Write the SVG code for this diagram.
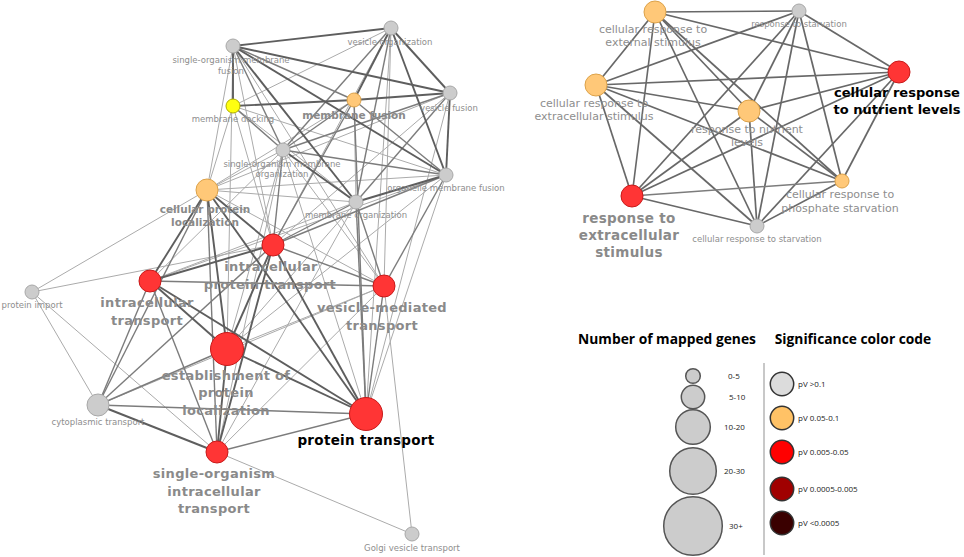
<svg xmlns="http://www.w3.org/2000/svg" width="964" height="557" viewBox="0 0 964 557">
<style>
.e1{stroke:#5e5e5e;stroke-width:1.9;fill:none}
.e2{stroke:#7c7c7c;stroke-width:1.4;fill:none}
.e3{stroke:#ababab;stroke-width:1;fill:none}
.er{stroke:#686868;stroke-width:1.7;fill:none}
.gray{fill:#cccccc;stroke:#a8a8a8;stroke-width:1}
.red{fill:#ff3535;stroke:#c81a1a;stroke-width:1}
.org{fill:#ffc878;stroke:#dca24a;stroke-width:1}
.yel{fill:#ffff10;stroke:#b0b000;stroke-width:1}
text{font-family:"DejaVu Sans",sans-serif;text-anchor:middle}
.s{font-size:8.5px;fill:#8e8e8e}
.m{font-size:11px;fill:#8e8e8e}
.b{font-size:13px;font-weight:bold;fill:#8a8a8a;letter-spacing:0.3px}
.bm{font-size:10.5px;font-weight:bold;fill:#8a8a8a}
.bk{font-size:13px;font-weight:bold;fill:#000}
.lt{font-family:"Open Sans",sans-serif;font-size:13.8px;font-weight:bold;fill:#000}
.ll{font-family:"Open Sans",sans-serif;font-size:8px;fill:#222;text-anchor:start}
.sz{fill:#cccccc;stroke:#555;stroke-width:1.5}
.cc{stroke:#333;stroke-width:1.5}
</style>
<rect width="964" height="557" fill="#fff"/>
<g id="connectors">
<line class="e3" x1="233" y1="46" x2="207" y2="190"/>
<line class="e3" x1="233" y1="46" x2="273" y2="245"/>
<line class="e3" x1="233" y1="46" x2="227" y2="349"/>
<line class="e3" x1="233" y1="46" x2="384" y2="286"/>
<line class="e3" x1="233" y1="106" x2="391" y2="28"/>
<line class="e3" x1="233" y1="106" x2="207" y2="190"/>
<line class="e3" x1="233" y1="106" x2="356" y2="202"/>
<line class="e3" x1="233" y1="106" x2="446" y2="175"/>
<line class="e3" x1="233" y1="106" x2="273" y2="245"/>
<line class="e3" x1="283" y1="150" x2="207" y2="190"/>
<line class="e3" x1="283" y1="150" x2="150" y2="281"/>
<line class="e3" x1="283" y1="150" x2="227" y2="349"/>
<line class="e3" x1="283" y1="150" x2="366" y2="414"/>
<line class="e3" x1="283" y1="150" x2="217" y2="452"/>
<line class="e3" x1="207" y1="190" x2="446" y2="175"/>
<line class="e3" x1="207" y1="190" x2="356" y2="202"/>
<line class="e3" x1="207" y1="190" x2="450" y2="93"/>
<line class="e3" x1="207" y1="190" x2="354" y2="100"/>
<line class="e3" x1="207" y1="190" x2="384" y2="286"/>
<line class="e3" x1="150" y1="281" x2="356" y2="202"/>
<line class="e3" x1="150" y1="281" x2="446" y2="175"/>
<line class="e3" x1="32" y1="292" x2="207" y2="190"/>
<line class="e3" x1="32" y1="292" x2="273" y2="245"/>
<line class="e3" x1="32" y1="292" x2="98" y2="405"/>
<line class="e3" x1="32" y1="292" x2="217" y2="452"/>
<line class="e3" x1="412" y1="534" x2="384" y2="286"/>
<line class="e3" x1="412" y1="534" x2="217" y2="452"/>
<line class="e3" x1="227" y1="349" x2="356" y2="202"/>
<line class="e3" x1="227" y1="349" x2="446" y2="175"/>
<line class="e3" x1="227" y1="349" x2="384" y2="286"/>
<line class="e3" x1="366" y1="414" x2="391" y2="28"/>
<line class="e3" x1="366" y1="414" x2="446" y2="175"/>
<line class="e3" x1="366" y1="414" x2="450" y2="93"/>
<line class="e3" x1="217" y1="452" x2="356" y2="202"/>
<line class="e3" x1="217" y1="452" x2="384" y2="286"/>
<line class="e3" x1="98" y1="405" x2="384" y2="286"/>
<line class="e3" x1="273" y1="245" x2="391" y2="28"/>
<line class="e3" x1="273" y1="245" x2="450" y2="93"/>
<line class="e3" x1="356" y1="202" x2="354" y2="100"/>
<line class="e3" x1="384" y1="286" x2="391" y2="28"/>
<line class="e3" x1="384" y1="286" x2="283" y2="150"/>
<line class="e2" x1="233" y1="46" x2="283" y2="150"/>
<line class="e2" x1="233" y1="46" x2="354" y2="100"/>
<line class="e2" x1="391" y1="28" x2="356" y2="202"/>
<line class="e2" x1="391" y1="28" x2="283" y2="150"/>
<line class="e2" x1="354" y1="100" x2="283" y2="150"/>
<line class="e2" x1="354" y1="100" x2="446" y2="175"/>
<line class="e2" x1="450" y1="93" x2="283" y2="150"/>
<line class="e2" x1="450" y1="93" x2="356" y2="202"/>
<line class="e2" x1="233" y1="106" x2="283" y2="150"/>
<line class="e2" x1="283" y1="150" x2="446" y2="175"/>
<line class="e2" x1="283" y1="150" x2="273" y2="245"/>
<line class="e2" x1="356" y1="202" x2="273" y2="245"/>
<line class="e2" x1="356" y1="202" x2="384" y2="286"/>
<line class="e2" x1="446" y1="175" x2="384" y2="286"/>
<line class="e2" x1="446" y1="175" x2="273" y2="245"/>
<line class="e2" x1="354" y1="100" x2="273" y2="245"/>
<line class="e2" x1="354" y1="100" x2="366" y2="414"/>
<line class="e2" x1="356" y1="202" x2="366" y2="414"/>
<line class="e2" x1="150" y1="281" x2="98" y2="405"/>
<line class="e2" x1="150" y1="281" x2="217" y2="452"/>
<line class="e2" x1="98" y1="405" x2="227" y2="349"/>
<line class="e2" x1="98" y1="405" x2="366" y2="414"/>
<line class="e2" x1="98" y1="405" x2="273" y2="245"/>
<line class="e2" x1="98" y1="405" x2="207" y2="190"/>
<line class="e2" x1="217" y1="452" x2="366" y2="414"/>
<line class="e2" x1="217" y1="452" x2="207" y2="190"/>
<line class="e2" x1="384" y1="286" x2="273" y2="245"/>
<line class="e2" x1="384" y1="286" x2="366" y2="414"/>
<line class="e2" x1="150" y1="281" x2="384" y2="286"/>
<line class="e1" x1="233" y1="46" x2="391" y2="28"/>
<line class="e1" x1="233" y1="46" x2="450" y2="93"/>
<line class="e1" x1="233" y1="46" x2="446" y2="175"/>
<line class="e1" x1="233" y1="46" x2="356" y2="202"/>
<line class="e1" x1="233" y1="46" x2="233" y2="106"/>
<line class="e1" x1="391" y1="28" x2="450" y2="93"/>
<line class="e1" x1="391" y1="28" x2="446" y2="175"/>
<line class="e1" x1="391" y1="28" x2="354" y2="100"/>
<line class="e1" x1="354" y1="100" x2="450" y2="93"/>
<line class="e1" x1="233" y1="106" x2="354" y2="100"/>
<line class="e1" x1="450" y1="93" x2="446" y2="175"/>
<line class="e1" x1="283" y1="150" x2="356" y2="202"/>
<line class="e1" x1="356" y1="202" x2="446" y2="175"/>
<line class="e1" x1="207" y1="190" x2="273" y2="245"/>
<line class="e1" x1="207" y1="190" x2="150" y2="281"/>
<line class="e1" x1="207" y1="190" x2="227" y2="349"/>
<line class="e1" x1="207" y1="190" x2="366" y2="414"/>
<line class="e1" x1="150" y1="281" x2="273" y2="245"/>
<line class="e1" x1="150" y1="281" x2="227" y2="349"/>
<line class="e1" x1="150" y1="281" x2="366" y2="414"/>
<line class="e1" x1="273" y1="245" x2="227" y2="349"/>
<line class="e1" x1="273" y1="245" x2="217" y2="452"/>
<line class="e1" x1="273" y1="245" x2="366" y2="414"/>
<line class="e1" x1="227" y1="349" x2="366" y2="414"/>
<line class="e1" x1="227" y1="349" x2="217" y2="452"/>
<line class="e1" x1="98" y1="405" x2="217" y2="452"/>
<line class="er" x1="655" y1="12" x2="799" y2="11"/>
<line class="er" x1="655" y1="12" x2="899" y2="72"/>
<line class="er" x1="655" y1="12" x2="596" y2="85"/>
<line class="er" x1="655" y1="12" x2="749" y2="111"/>
<line class="er" x1="655" y1="12" x2="842" y2="181"/>
<line class="er" x1="655" y1="12" x2="632" y2="196"/>
<line class="er" x1="655" y1="12" x2="757" y2="226"/>
<line class="er" x1="799" y1="11" x2="899" y2="72"/>
<line class="er" x1="799" y1="11" x2="596" y2="85"/>
<line class="er" x1="799" y1="11" x2="749" y2="111"/>
<line class="er" x1="799" y1="11" x2="842" y2="181"/>
<line class="er" x1="799" y1="11" x2="632" y2="196"/>
<line class="er" x1="799" y1="11" x2="757" y2="226"/>
<line class="er" x1="899" y1="72" x2="596" y2="85"/>
<line class="er" x1="899" y1="72" x2="749" y2="111"/>
<line class="er" x1="899" y1="72" x2="842" y2="181"/>
<line class="er" x1="899" y1="72" x2="632" y2="196"/>
<line class="er" x1="899" y1="72" x2="757" y2="226"/>
<line class="er" x1="596" y1="85" x2="749" y2="111"/>
<line class="er" x1="596" y1="85" x2="842" y2="181"/>
<line class="er" x1="596" y1="85" x2="632" y2="196"/>
<line class="er" x1="596" y1="85" x2="757" y2="226"/>
<line class="er" x1="749" y1="111" x2="842" y2="181"/>
<line class="er" x1="749" y1="111" x2="632" y2="196"/>
<line class="er" x1="749" y1="111" x2="757" y2="226"/>
<line class="e2" x1="842" y1="181" x2="632" y2="196"/>
<line class="er" x1="842" y1="181" x2="757" y2="226"/>
<line class="er" x1="632" y1="196" x2="757" y2="226"/>
</g>
<g id="n-single-organism-membrane-fusion"><circle class="gray" cx="233" cy="46" r="7"/></g>
<g id="n-vesicle-organization"><circle class="gray" cx="391" cy="28" r="7"/></g>
<g id="n-membrane-fusion"><circle class="org" cx="354" cy="100" r="7"/></g>
<g id="n-vesicle-fusion"><circle class="gray" cx="450" cy="93" r="7"/></g>
<g id="n-membrane-docking"><circle class="yel" cx="233" cy="106" r="7"/></g>
<g id="n-single-organism-membrane-organization"><circle class="gray" cx="283" cy="150" r="7"/></g>
<g id="n-organelle-membrane-fusion"><circle class="gray" cx="446" cy="175" r="7"/></g>
<g id="n-membrane-organization"><circle class="gray" cx="356" cy="202" r="7"/></g>
<g id="n-cellular-protein-localization"><circle class="org" cx="207" cy="190" r="11"/></g>
<g id="n-intracellular-protein-transport"><circle class="red" cx="273" cy="245" r="11"/></g>
<g id="n-intracellular-transport"><circle class="red" cx="150" cy="281" r="11"/></g>
<g id="n-vesicle-mediated-transport"><circle class="red" cx="384" cy="286" r="11"/></g>
<g id="n-protein-import"><circle class="gray" cx="32" cy="292" r="7"/></g>
<g id="n-establishment-of-protein-localization"><circle class="red" cx="227" cy="349" r="16.5"/></g>
<g id="n-cytoplasmic-transport"><circle class="gray" cx="98" cy="405" r="11"/></g>
<g id="n-protein-transport"><circle class="red" cx="366" cy="414" r="16.5"/></g>
<g id="n-single-organism-intracellular-transport"><circle class="red" cx="217" cy="452" r="11"/></g>
<g id="n-golgi-vesicle-transport"><circle class="gray" cx="412" cy="534" r="7"/></g>
<g id="n-cellular-response-to-external-stimulus"><circle class="org" cx="655" cy="12" r="11"/></g>
<g id="n-response-to-starvation"><circle class="gray" cx="799" cy="11" r="7"/></g>
<g id="n-cellular-response-to-nutrient-levels"><circle class="red" cx="899" cy="72" r="11"/></g>
<g id="n-cellular-response-to-extracellular-stimulus"><circle class="org" cx="596" cy="85" r="11"/></g>
<g id="n-response-to-nutrient-levels"><circle class="org" cx="749" cy="111" r="11"/></g>
<g id="n-cellular-response-to-phosphate-starvation"><circle class="org" cx="842" cy="181" r="7"/></g>
<g id="n-response-to-extracellular-stimulus"><circle class="red" cx="632" cy="196" r="11"/></g>
<g id="n-cellular-response-to-starvation"><circle class="gray" cx="757" cy="226" r="7"/></g>
<g id="labels">
<text class="s" x="231" y="63">single-organism membrane</text>
<text class="s" x="231" y="74">fusion</text>
<text class="s" x="390" y="45">vesicle organization</text>
<text class="bm" x="354" y="119">membrane fusion</text>
<text class="s" x="449" y="111">vesicle fusion</text>
<text class="s" x="233" y="122">membrane docking</text>
<text class="s" x="282" y="167">single-organism membrane</text>
<text class="s" x="282" y="177">organization</text>
<text class="s" x="446" y="191">organelle membrane fusion</text>
<text class="s" x="356" y="218">membrane organization</text>
<text class="bm" x="205" y="213">cellular protein</text>
<text class="bm" x="205" y="226">localization</text>
<text class="b" x="271" y="271">intracellular</text>
<text class="b" x="270" y="289">protein transport</text>
<text class="b" x="147" y="307">intracellular</text>
<text class="b" x="147" y="325">transport</text>
<text class="b" x="382" y="312">vesicle-mediated</text>
<text class="b" x="382" y="330">transport</text>
<text class="s" x="32" y="308">protein import</text>
<text class="b" x="226" y="380">establishment of</text>
<text class="b" x="226" y="397">protein</text>
<text class="b" x="226" y="415">localization</text>
<text class="s" x="98" y="425">cytoplasmic transport</text>
<text class="bk" x="366" y="445" style="font-size:13.5px;letter-spacing:0.3px">protein transport</text>
<text class="b" x="214" y="478">single-organism</text>
<text class="b" x="214" y="496">intracellular</text>
<text class="b" x="214" y="513">transport</text>
<text class="s" x="412" y="551">Golgi vesicle transport</text>
<text class="m" x="653" y="33">cellular response to</text>
<text class="m" x="653" y="46">external stimulus</text>
<text class="s" x="799" y="27">response to starvation</text>
<text class="bk" x="897" y="97">cellular response</text>
<text class="bk" x="897" y="114">to nutrient levels</text>
<text class="m" x="594" y="107">cellular response to</text>
<text class="m" x="594" y="120">extracellular stimulus</text>
<text class="m" x="747" y="133">response to nutrient</text>
<text class="m" x="747" y="146">levels</text>
<text class="m" x="840" y="198">cellular response to</text>
<text class="m" x="840" y="212">phosphate starvation</text>
<text class="b" x="629" y="223" style="font-size:13.5px">response to</text>
<text class="b" x="629" y="240" style="font-size:13.5px">extracellular</text>
<text class="b" x="629" y="257" style="font-size:13.5px">stimulus</text>
<text class="s" x="757" y="242">cellular response to starvation</text>
</g>
<g id="legend">
<text class="lt" x="667" y="344">Number of mapped genes</text>
<text class="lt" x="853" y="344">Significance color code</text>
<line x1="764" y1="363" x2="764" y2="555" stroke="#c8c8c8" stroke-width="2"/>
<circle class="sz" cx="693" cy="376" r="7.3"/>
<circle class="sz" cx="693" cy="397" r="11.7"/>
<circle class="sz" cx="693" cy="427" r="17.3"/>
<circle class="sz" cx="693" cy="471" r="23.3"/>
<circle class="sz" cx="693" cy="526" r="29.3"/>
<text class="ll" x="728" y="379">0-5</text>
<text class="ll" x="729" y="400">5-10</text>
<text class="ll" x="724" y="430">10-20</text>
<text class="ll" x="724" y="474">20-30</text>
<text class="ll" x="729" y="529">30+</text>
<circle class="cc" cx="782" cy="384" r="11.7" fill="#dcdcdc"/>
<circle class="cc" cx="782" cy="418" r="11.7" fill="#ffc266"/>
<circle class="cc" cx="782" cy="452" r="11.7" fill="#ff0000"/>
<circle class="cc" cx="782" cy="489" r="11.7" fill="#a00000"/>
<circle class="cc" cx="782" cy="523" r="11.7" fill="#3a0000"/>
<text class="ll" x="798" y="387">pV &gt;0.1</text>
<text class="ll" x="798" y="421">pV 0.05-0.1</text>
<text class="ll" x="798" y="455">pV 0.005-0.05</text>
<text class="ll" x="798" y="492">pV 0.0005-0.005</text>
<text class="ll" x="798" y="526">pV &lt;0.0005</text>
</g>
</svg>
